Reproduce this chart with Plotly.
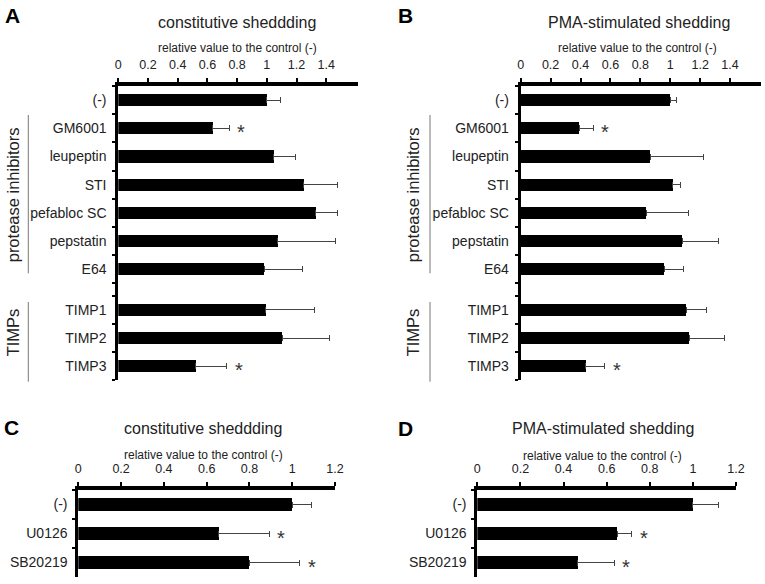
import plotly.graph_objects as go

W, H = 765, 584

# ---------------- data ----------------
cats_ab = ["(-)", "GM6001", "leupeptin", "STI", "pefabloc SC", "pepstatin", "E64",
           "TIMP1", "TIMP2", "TIMP3"]
n_top_ab = 7  # (-) + protease inhibitors; the rest are TIMPs
a_vals = [1.00, 0.636, 1.046, 1.248, 1.329, 1.073, 0.982, 0.993, 1.104, 0.521]
a_err = [0.09, 0.11, 0.15, 0.23, 0.15, 0.39, 0.26, 0.33, 0.32, 0.21]
b_vals = [1.00, 0.392, 0.867, 1.017, 0.838, 1.079, 0.961, 1.106, 1.126, 0.435]
b_err = [0.045, 0.094, 0.354, 0.051, 0.283, 0.245, 0.125, 0.136, 0.236, 0.127]
ab_sig = ["GM6001", "TIMP3"]

cats_cd = ["(-)", "U0126", "SB20219"]
c_vals = [1.00, 0.657, 0.799]
c_err = [0.09, 0.236, 0.237]
d_vals = [1.00, 0.650, 0.466]
d_err = [0.121, 0.066, 0.170]
cd_sig = ["U0126", "SB20219"]

ticks_ab = [0, 0.2, 0.4, 0.6, 0.8, 1.0, 1.2, 1.4]
ticktext_ab = ["0", "0.2", "0.4", "0.6", "0.8", "1", "1.2", "1.4"]
ticks_cd = [0, 0.2, 0.4, 0.6, 0.8, 1.0, 1.2]
ticktext_cd = ["0", "0.2", "0.4", "0.6", "0.8", "1", "1.2"]

titles = ["constitutive sheddding", "PMA-stimulated shedding",
          "constitutive sheddding", "PMA-stimulated shedding"]
axis_title = "relative value to the control (-)"
letters = ["A", "B", "C", "D"]

# ---------------- layout helpers ----------------
FONT = "Liberation Sans, Arial, sans-serif"
TXT = "#222"
GAP = 0.44
pos_ab = [i if i < n_top_ab else i + GAP for i in range(len(cats_ab))]
bounds_ab = [i - 0.5 for i in range(n_top_ab + 1)] + \
            [p + 0.5 for p in pos_ab[n_top_ab:]] + [pos_ab[n_top_ab] - 0.5]
yrange_ab = [pos_ab[-1] + 0.5, -0.5]


def fx(p):
    return p / W


def fy(p):
    return 1 - p / H


BAR_W = 0.43

fig = go.Figure()


def add_panel(idx, cats, ypos, vals, errs, sig):
    ax = "" if idx == 1 else str(idx)
    fig.add_trace(go.Bar(
        x=vals, y=ypos, orientation="h", width=BAR_W,
        marker=dict(color="black", line=dict(width=0)),
        error_x=dict(type="data", symmetric=False, array=errs,
                     arrayminus=[0] * len(errs), color="#444",
                     thickness=1, width=3),
        xaxis="x" + ax, yaxis="y" + ax, showlegend=False, hoverinfo="skip"))
    for c, v, e, yp in zip(cats, vals, errs, ypos):
        if c in sig:
            fig.add_annotation(x=v + e, y=yp, xref="x" + ax, yref="y" + ax,
                               text="*", showarrow=False, xanchor="center",
                               yanchor="middle", xshift=12, yshift=-4,
                               font=dict(family=FONT, size=20, color="#333"))


add_panel(1, cats_ab, pos_ab, a_vals, a_err, ab_sig)
add_panel(2, cats_ab, pos_ab, b_vals, b_err, ab_sig)
add_panel(3, cats_cd, cats_cd, c_vals, c_err, cd_sig)
add_panel(4, cats_cd, cats_cd, d_vals, d_err, cd_sig)


def xaxis(dom, rng, tv, tt, anchor):
    return dict(domain=[fx(dom[0]), fx(dom[1])], range=rng, side="top",
                anchor=anchor, showline=True, linewidth=4, linecolor="black",
                ticks="outside", ticklen=4, tickwidth=2, tickcolor="black",
                tickvals=tv, ticktext=tt, showgrid=False, zeroline=False,
                tickfont=dict(family=FONT, size=12.5, color=TXT),
                ticklabelstandoff=4, fixedrange=True, automargin=False)


def yaxis_ab(anchor):
    return dict(domain=[fy(380.4), fy(86)], range=yrange_ab, anchor=anchor,
                tickmode="array", tickvals=pos_ab, ticktext=cats_ab,
                ticks="", showline=True, linewidth=3, linecolor="black",
                showgrid=False, zeroline=False,
                minor=dict(tickmode="array", tickvals=bounds_ab, ticks="outside",
                           ticklen=3, tickwidth=2, tickcolor="black",
                           showgrid=False),
                tickfont=dict(family=FONT, size=14, color=TXT),
                ticklabelstandoff=6, fixedrange=True, automargin=False)


def yaxis_cd(anchor):
    return dict(domain=[fy(577), fy(490)], type="category",
                categoryorder="array", categoryarray=cats_cd,
                autorange="reversed", anchor=anchor,
                ticks="outside", tickson="boundaries", ticklen=3, tickwidth=2,
                tickcolor="black", showline=True, linewidth=3, linecolor="black",
                showgrid=False, zeroline=False,
                tickfont=dict(family=FONT, size=14, color=TXT),
                ticklabelstandoff=5, fixedrange=True, automargin=False)


fig.update_layout(
    template="none",
    width=W, height=H, margin=dict(l=0, r=0, t=0, b=0, pad=0), autosize=False,
    paper_bgcolor="white", plot_bgcolor="white",
    font=dict(family=FONT, color=TXT), bargap=0,
    xaxis=xaxis((118.3, 358), [0, 1.614], ticks_ab, ticktext_ab, "y"),
    yaxis=yaxis_ab("x"),
    xaxis2=xaxis((520.7, 761), [0, 1.607], ticks_ab, ticktext_ab, "y2"),
    yaxis2=yaxis_ab("x2"),
    xaxis3=xaxis((78.3, 335), [0, 1.2], ticks_cd, ticktext_cd, "y3"),
    yaxis3=yaxis_cd("x3"),
    xaxis4=xaxis((477.3, 736), [0, 1.2], ticks_cd, ticktext_cd, "y4"),
    yaxis4=yaxis_cd("x4"),
)


def ann(text, x, y, size, bold=False, angle=0, color=TXT):
    fig.add_annotation(xref="paper", yref="paper", x=fx(x), y=fy(y),
                       text=("<b>%s</b>" % text) if bold else text,
                       showarrow=False, xanchor="center", yanchor="middle",
                       textangle=angle,
                       font=dict(family=FONT, size=size, color=color))


# panel letters
for t, (x, y) in zip(letters, [(12.5, 15), (405.5, 15), (11.5, 427), (405.5, 428.5)]):
    ann(t, x, y, 21, bold=True, color="black")
# titles
for t, (x, y) in zip(titles, [(237, 22), (638.8, 22), (203, 428), (603, 428)]):
    ann(t, x, y, 16)
# axis titles
for x, y in [(237.5, 47.5), (637, 47.5), (203, 455), (602.5, 456)]:
    ann(axis_title, x, y, 12)

# group labels + lines
for lx, tx in [(28.3, 13.3), (430, 413.3)]:
    ann("protease inhibitors", tx, 195, 16.5, angle=-90)
    ann("TIMPs", tx, 332, 16.5, angle=-90)
    fig.add_shape(type="line", xref="paper", yref="paper",
                  x0=fx(lx), x1=fx(lx), y0=fy(115), y1=fy(273.3),
                  line=dict(color="#777", width=1))
    fig.add_shape(type="line", xref="paper", yref="paper",
                  x0=fx(lx), x1=fx(lx), y0=fy(302), y1=fy(381.7),
                  line=dict(color="#777", width=1))

fig.write_html("out.html",
               config={"displayModeBar": False, "staticPlot": True},
               post_script="document.body.style.margin='0';"
                           "document.body.style.overflow='hidden';")
